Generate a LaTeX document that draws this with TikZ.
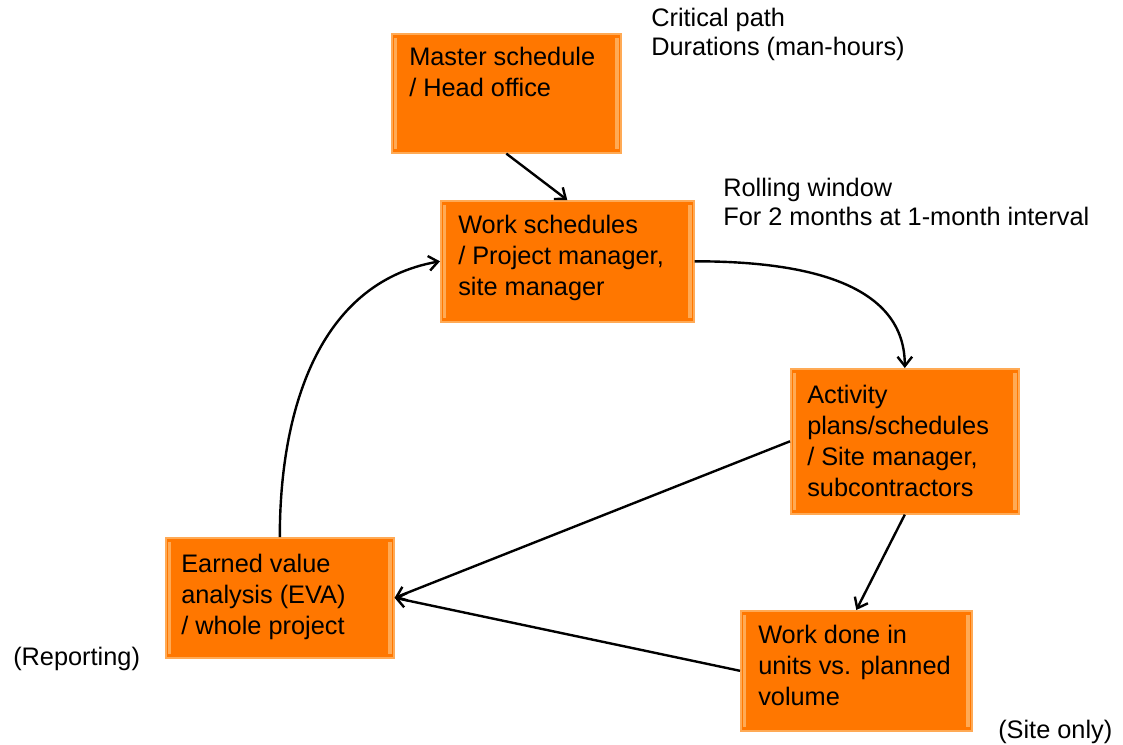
\documentclass[tikz,border=0pt]{standalone}
\usepackage{fontspec}
\setmainfont{Liberation Sans}
\usetikzlibrary{arrows.meta}
\definecolor{stagefill}{RGB}{255,119,0}
\definecolor{stageedge}{RGB}{255,170,85}

\begin{document}
\begin{tikzpicture}[x=0.75pt, y=-0.75pt,
    font=\fontsize{19}{23.25}\selectfont,
    stage/.style={draw=stageedge, fill=stagefill, line width=1.2pt,
      anchor=north west, inner sep=0pt,
      path picture={
        \fill[stageedge] ([xshift=1.5pt,yshift=-3pt]path picture bounding box.north west)
          rectangle ([xshift=4pt,yshift=3pt]path picture bounding box.south west);
        \fill[stageedge] ([xshift=-1.5pt,yshift=-3pt]path picture bounding box.north east)
          rectangle ([xshift=-4pt,yshift=3pt]path picture bounding box.south east);}},
    stagetext/.style={anchor=base west, align=left, inner sep=0pt},
    note/.style={anchor=base west, align=left, inner sep=0pt,
      font=\fontsize{19}{21.75}\selectfont},
    link/.style={-{Straight Barb[length=7pt, width=11pt]}, line width=1.8pt}]

  \useasboundingbox (0,0) rectangle (1123,745);

% ---------------- the five stages
  \node[stage, minimum width=229*0.75pt, minimum height=119*0.75pt] (master) at (391,33) {};
  \node[stage, minimum width=253*0.75pt, minimum height=121*0.75pt] (work) at (440,200) {};
  \node[stage, minimum width=228*0.75pt, minimum height=145*0.75pt] (activity) at (790,368) {};
  \node[stage, minimum width=228*0.75pt, minimum height=120*0.75pt] (earned) at (165,537) {};
  \node[stage, minimum width=231*0.75pt, minimum height=120*0.75pt] (workdone) at (740,610) {};

% base anchor = baseline of the last line
  \node[stagetext] (master-txt) at ([shift={(18,64)}]master.north west)
    {Master schedule\\/ Head office};
  \node[stagetext] (work-txt) at ([shift={(18,95)}]work.north west)
    {Work schedules\\/ Project manager,\\site manager};
  \node[stagetext] (activity-txt) at ([shift={(17,128)}]activity.north west)
    {Activity\\plans/schedules\\/ Site manager,\\subcontractors};
  \node[stagetext] (earned-txt) at ([shift={(16,97)}]earned.north west)
    {Earned value\\analysis (EVA)\\/ whole project};
  \node[stagetext] (workdone-txt) at ([shift={(18,95)}]workdone.north west)
    {Work done in\\units vs. planned\\volume};

% ---------------- side notes
  \node[note] (critical) at (651,56) {Critical path\\Durations (man-hours)};
  \node[note] (rolling) at (723,226) {Rolling window\\For 2 months at 1-month interval};
  \node[note] (reporting) at (13,665) {(Reporting)};
  \node[note] (siteonly) at (998,738) {(Site only)};

% ---------------- the planning cycle
  \draw[link] (master.south) -- (work.north);
  \draw[link] (work.east) to[out=0, in=90] (activity.north);
  \draw[link] (activity.south) -- (workdone.north);
  \draw[link] (activity.west) -- (earned.east);
  \draw[link] (workdone.west) -- (earned.east);
  \draw[link] (earned.north) to[out=90, in=190] (work.west);
\end{tikzpicture}
\end{document}
